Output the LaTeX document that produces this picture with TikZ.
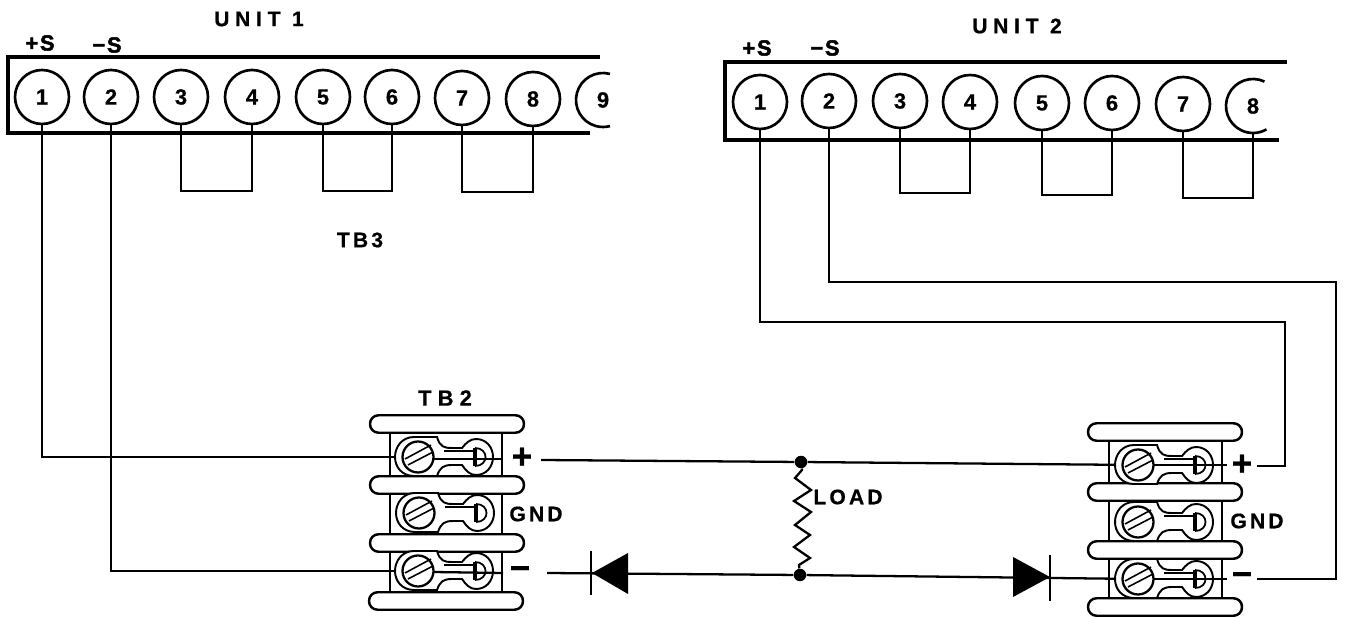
\documentclass[tikz,border=0pt]{standalone}
\usepackage{fontspec}
\setmainfont{Liberation Sans}[BoldFeatures={FakeBold=0.6}]
\newfontfamily\wideunit{Liberation Sans}[LetterSpace=27,BoldFeatures={FakeBold=0.6}]
\newfontfamily\widelabel{Liberation Sans}[LetterSpace=15,BoldFeatures={FakeBold=0.6}]
\newfontfamily\sensefont{Liberation Sans}[LetterSpace=8,BoldFeatures={FakeBold=2}]

\tikzset{
	termnode/.style={circle,draw,line width=1.5pt,minimum size=1.08cm,inner sep=0pt,font=\bfseries\fontsize{12.5}{12.5}\selectfont},
	cutnode/.style={circle,minimum size=1.08cm,inner sep=0pt,font=\bfseries\fontsize{12.5}{12.5}\selectfont},
	cutarc/.style={line width=1.5pt},
	unitlabel/.style={inner sep=0pt,font=\bfseries\wideunit\fontsize{12}{12}\selectfont},
	smalllabel/.style={inner sep=0pt,font=\bfseries\widelabel\fontsize{12}{12}\selectfont},
	senselabel/.style={inner sep=0pt,font=\bfseries\sensefont\fontsize{12.5}{12.5}\selectfont},
	tblabel/.style={inner sep=0pt,font=\bfseries\fontsize{12.5}{12.5}\selectfont},
	signlabel/.style={inner sep=0pt,font=\bfseries\fontsize{20}{20}\selectfont},
	boxline/.style={line width=2.7pt},
	wire/.style={line width=1.3pt,line join=miter},
	thinline/.style={line width=0.9pt},
	tbbar/.style={draw,fill=white,rounded corners=0.17cm,line width=1.4pt,minimum width=3.08cm,minimum height=0.35cm,inner sep=0pt},
	dotnode/.style={circle,fill=black,minimum size=0.25cm,inner sep=0pt},
	termlug/.pic={
		\draw[fill=white,line width=1.1pt] (19,-20) -- (-4,-20) .. controls (-16,-20) and (-23,-10) .. (-23,0)
			.. controls (-23,10) and (-16,19) .. (-4,19) -- (19,19)
			.. controls (22,10) and (26,8) .. (34,8) -- (44,8)
			.. controls (48,14) and (52,18) .. (58,18) .. controls (68,18) and (75,10) .. (75,0)
			.. controls (75,-10) and (68,-18) .. (58,-18) .. controls (52,-18) and (48,-14) .. (44,-9)
			-- (34,-9) .. controls (26,-9) and (22,-10) .. (19,-20) -- cycle;
		\draw[line width=1pt] (57,-9) .. controls (71,-9) and (71,9) .. (57,9);
		\draw[line width=2pt] (57,-9) -- (57,9);
		\draw[line width=0.8pt] (26,-6) -- (57,-6);
		\filldraw[fill=white,draw=black,line width=1.3pt] (0,0) circle (15.5);
		\draw[line width=0.9pt] (-13,2) -- (13,-12);
		\draw[line width=0.9pt] (-10,8) -- (15,-5);
	}
}

\begin{document}
\begin{tikzpicture}[x=0.02cm,y=-0.02cm]

\useasboundingbox (0,0) rectangle (1345,617);

\draw[boxline] (600,57) -- (8,57) -- (8,133) -- (590,133);
\draw[boxline] (1287,62) -- (725,62) -- (725,140) -- (1279,140);

\node[termnode,fill=white] (ua1) at (42,97) {1};
\node[termnode,fill=white] (ua2) at (111,97) {2};
\node[termnode,fill=white] (ua3) at (181,97) {3};
\node[termnode,fill=white] (ua4) at (252,97) {4};
\node[termnode,fill=white] (ua5) at (323,97) {5};
\node[termnode,fill=white] (ua6) at (392,97) {6};
\node[termnode,fill=white] (ua7) at (462,98) {7};
\node[termnode,fill=white] (ua8) at (533,99) {8};
\node[cutnode] (ua9) at (603,100) {9};
\draw[cutarc] (ua9.center) ++(-75:27) arc[start angle=-75,end angle=-285,radius=27];

\node[termnode,fill=white] (ub1) at (760,102) {1};
\node[termnode,fill=white] (ub2) at (829,101) {2};
\node[termnode,fill=white] (ub3) at (900,101) {3};
\node[termnode,fill=white] (ub4) at (970,102) {4};
\node[termnode,fill=white] (ub5) at (1042,103) {5};
\node[termnode,fill=white] (ub6) at (1112,103) {6};
\node[termnode,fill=white] (ub7) at (1183,104) {7};
\node[cutnode] (ub8) at (1253,106) {8};
\draw[cutarc] (ub8.center) ++(-65:27) arc[start angle=-65,end angle=-300,radius=27];

\node[unitlabel] (unita) at (259,19) {UNIT 1};
\node[unitlabel] (unitb) at (1017,26) {UNIT  2};
\node[senselabel] (spa) at (40,43) {+S};
\node[senselabel] (sma) at (107,45) {−S};
\node[senselabel] (spb) at (757,48) {+S};
\node[senselabel] (smb) at (825,48) {−S};
\node[smalllabel] (tbthree) at (360,240) {TB3};

\coordinate (ja3) at (181,191);
\coordinate (ja4) at (252,191);
\coordinate (ja5) at (323,191);
\coordinate (ja6) at (392,191);
\coordinate (ja7) at (462,192);
\coordinate (ja8) at (533,192);
\coordinate (jb3) at (900,193);
\coordinate (jb4) at (970,193);
\coordinate (jb5) at (1042,195);
\coordinate (jb6) at (1112,195);
\coordinate (jb7) at (1183,198);
\coordinate (jb8) at (1253,198);

\draw[wire] (ua3.south) -- (ja3) -- (ja4) -- (ua4.south);
\draw[wire] (ua5.south) -- (ja5) -- (ja6) -- (ua6.south);
\draw[wire] (ua7.south) -- (ja7) -- (ja8) -- (ua8.south);
\draw[wire] (ub3.south) -- (jb3) -- (jb4) -- (ub4.south);
\draw[wire] (ub5.south) -- (jb5) -- (jb6) -- (ub6.south);
\draw[wire] (ub7.south) -- (jb7) -- (jb8) -- (ub8.south);

\draw[thinline] (390,416) rectangle (502,610);
\draw[thinline] (1109,423) rectangle (1222,607);

\node[tbbar] (bara1) at (447,424) {};
\node[tbbar] (bara2) at (447,485) {};
\node[tbbar] (bara3) at (447,543) {};
\node[tbbar] (bara4) at (446,601) {};
\node[tbbar] (barb1) at (1165,432) {};
\node[tbbar] (barb2) at (1165,492) {};
\node[tbbar] (barb3) at (1165,550) {};
\node[tbbar] (barb4) at (1165,607) {};

\node[dotnode] (ldtop) at (801,462) {};
\node[dotnode] (ldbot) at (800,575) {};

\coordinate (tap) at (418,457);
\coordinate (tam) at (418,571);
\coordinate (tbp) at (1138,465);
\coordinate (tbm) at (1138,579);

\draw[wire] (ua1.south) |- (tap);
\draw[wire] (ua2.south) |- (tam);

\node[signlabel] (pla) at (522,458) {+};
\node[signlabel] (mna) at (520,573) {−};
\node[signlabel] (plb) at (1242,465) {+};
\node[signlabel] (mnb) at (1242,579) {−};

\coordinate (oap) at (541,460);
\coordinate (oam) at (547,573);
\coordinate (obp) at (1257,466);
\coordinate (obm) at (1257,579);
\coordinate (cbp) at (1285,322);
\coordinate (cbm) at (1336,282);

\draw[wire] (oap) -- (ldtop) -- (tbp);
\draw[wire] (oam) -- (ldbot) -- (tbm);
\draw[wire] (ub1.south) |- (cbp) |- (obp);
\draw[wire,line width=1.5pt] (ub2.south) |- (cbm) |- (obm);

\pic at (418,457) {termlug};
\pic at (419,513) {termlug};
\pic at (418,571) {termlug};
\pic at (1138,465) {termlug};
\pic at (1138,522) {termlug};
\pic at (1138,579) {termlug};

\coordinate (lap) at (433,459);
\coordinate (eap) at (503,459);
\coordinate (lam) at (433,572);
\coordinate (eam) at (503,573);
\coordinate (lbp) at (1153,465);
\coordinate (ebp) at (1227,465);
\coordinate (lbm) at (1153,579);
\coordinate (ebm) at (1227,579);

\draw[wire] (lap) -- (eap);
\draw[wire] (lam) -- (eam);
\draw[wire] (lbp) -- (ebp);
\draw[wire] (lbm) -- (ebm);

\node[smalllabel] (gnda) at (536,514) {GND};
\node[smalllabel] (gndb) at (1257,521) {GND};
\node[tblabel] (tbtwo) at (445,398) {T B 2};
\node[smalllabel] (load) at (848,497) {LOAD};

\draw[wire] (ldtop) -- (802,470) -- (795,478) -- (811,490) -- (794,501) -- (811,512) -- (795,525) -- (810,535) -- (794,547) -- (810,558) -- (799,565) -- (ldbot);

\fill (592,573) -- (628,553) -- (628,594) -- cycle;
\draw[wire,line width=1.6pt] (591,551) -- (591,595);

\fill (1050,577) -- (1013,557) -- (1013,597) -- cycle;
\draw[wire,line width=1.6pt] (1050,555) -- (1050,601);

\end{tikzpicture}
\end{document}
